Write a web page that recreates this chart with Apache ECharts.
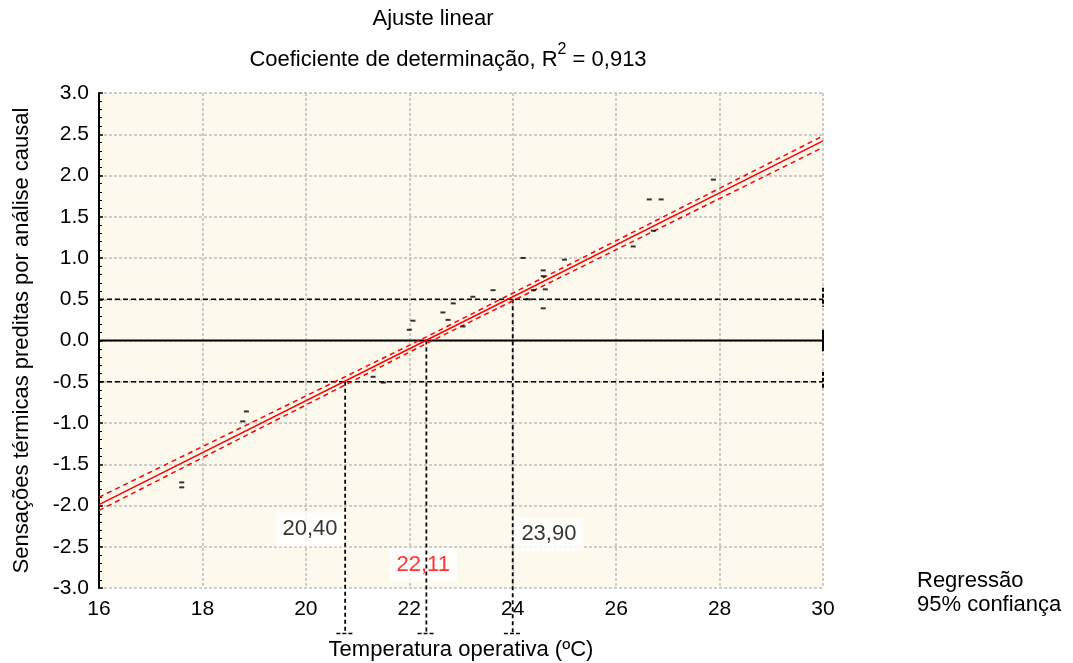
<!DOCTYPE html>
<html>
<head>
<meta charset="utf-8">
<script src="https://cdn.jsdelivr.net/npm/echarts@6/dist/echarts.min.js"></script>
<style>
  html, body { margin: 0; padding: 0; background: #fff; }
  #chart { width: 1073px; height: 663px; }
</style>
</head>
<body>
<div id="chart"></div>
<script>
// observed points (temperature, predicted sensation)
const obsX = [17.6, 17.6, 18.85, 18.78, 21.3, 21.5, 22.07, 22.0, 22.65, 22.85, 22.75, 23.23, 23.04,
  23.62, 24.2, 25.0, 24.59, 24.59, 24.4, 24.3, 24.59, 24.63, 26.33, 26.72, 26.64, 26.87, 27.88];
const obsY = [-1.72, -1.78, -0.86, -0.98, -0.44, -0.51, 0.24, 0.13, 0.34, 0.45, 0.25, 0.53, 0.17,
  0.61, 1.0, 0.98, 0.85, 0.78, 0.61, 0.5, 0.39, 0.62, 1.14, 1.33, 1.71, 1.71, 1.95];

// regression line and 95% band
const regX = [16, 22.32, 30];
const regY = [-1.99, 0.0, 2.42];
const upY = [-1.90, 0.04, 2.48];
const loY = [-2.06, -0.04, 2.34];

// comfort limits
const limY = [-0.5, 0, 0.5];
const cutX = [20.76, 22.33, 24.0];
const cutLabels = ['20,40', '22,11', '23,90'];
const labelPos = [[20.08, -2.29], [22.27, -2.72], [24.70, -2.35]];
const bottomY = -3.55;

const chart = echarts.init(document.getElementById('chart'));
const font = 'Liberation Sans, Arial, sans-serif';

const series = [];

// dashed limit lines and the zero line
limY.forEach(function (v) {
  series.push({
    type: 'line', symbol: 'none', silent: true, z: 3,
    data: [[16, v], [30, v]],
    lineStyle: { color: '#000', width: v === 0 ? 2 : 1.5, type: v === 0 ? 'solid' : [5, 3] }
  });
});

// small caps at the right edge
const capR = [[0.64, 0.41, [4, 2]], [0.13, -0.13, 'solid'], [-0.38, -0.59, [4, 2]]];
capR.forEach(function (c) {
  series.push({
    type: 'line', symbol: 'none', silent: true, clip: false, z: 3,
    data: [[30, c[0]], [30, c[1]]],
    lineStyle: { color: '#000', width: 2, type: c[2] }
  });
});

// vertical drops to the x axis
cutX.forEach(function (x, i) {
  series.push({
    type: 'line', symbol: 'none', silent: true, clip: false, z: 3,
    data: [[x, limY[i]], [x, bottomY]],
    lineStyle: { color: '#000', width: 1.8, type: [4, 3] }
  });
  series.push({
    type: 'line', symbol: 'none', silent: true, clip: false, z: 3,
    data: [[x - 0.17, bottomY], [x + 0.17, bottomY]],
    lineStyle: { color: '#000', width: 1.5, type: [4, 2] }
  });
});

series.push({
  name: 'Regressão', type: 'line', symbol: 'none', z: 5,
  data: regX.map(function (x, i) { return [x, regY[i]]; }),
  lineStyle: { color: '#f00', width: 1.5 }
});
series.push({
  name: '95% confiança', type: 'line', symbol: 'none', z: 5,
  data: regX.map(function (x, i) { return [x, upY[i]]; }),
  lineStyle: { color: '#f00', width: 1.5, type: [5, 4] }
});
series.push({
  type: 'line', symbol: 'none', z: 5,
  data: regX.map(function (x, i) { return [x, loY[i]]; }),
  lineStyle: { color: '#f00', width: 1.5, type: [5, 4] }
});

series.push({
  type: 'scatter', symbol: 'rect', symbolSize: [5, 2], z: 6,
  itemStyle: { color: '#000' },
  data: obsX.map(function (x, i) { return [x, obsY[i]]; })
});

// value boxes (drawn under the drop lines)
series.push({
  type: 'scatter', symbolSize: 0, z: 2, silent: true,
  data: labelPos.map(function (p, i) {
    return {
      value: p,
      label: {
        show: true, position: 'inside', formatter: cutLabels[i],
        color: i === 1 ? '#f00' : '#000', fontSize: 22, fontFamily: font,
        backgroundColor: '#fff', padding: [6, 7, 6, 7]
      }
    };
  })
});

const option = {
  backgroundColor: '#fff',
  animation: false,
  grid: {
    left: 99, top: 93, width: 724, height: 495, outerBoundsMode: 'none',
    show: true, backgroundColor: '#fdf9ec', borderWidth: 0
  },
  xAxis: {
    type: 'value', min: 16, max: 30, interval: 2,
    name: 'Temperatura operativa (ºC)', nameLocation: 'middle', nameGap: 51,
    nameTextStyle: { color: '#000', fontSize: 22, fontFamily: font },
    axisLine: { show: false }, axisTick: { show: false },
    axisLabel: { color: '#000', fontSize: 21, fontFamily: font, margin: 11 },
    splitLine: { show: true, lineStyle: { color: '#bdbdbd', width: 1.5, type: [3, 2] } }
  },
  yAxis: {
    type: 'value', min: -3, max: 3, interval: 0.5,
    name: 'Sensações térmicas preditas por análise causal', nameLocation: 'middle', nameGap: 66,
    nameTextStyle: { color: '#000', fontSize: 22, fontFamily: font },
    axisLine: { show: true, lineStyle: { color: '#000', width: 2 } },
    axisTick: { show: true, inside: true, length: 4, lineStyle: { color: '#000', width: 1.5 } },
    minorTick: { show: true, splitNumber: 5, length: 3, lineStyle: { color: '#000' } },
    axisLabel: { color: '#000', fontSize: 21, fontFamily: font, margin: 10,
      formatter: function (v) { return v.toFixed(1); } },
    splitLine: { show: true, lineStyle: { color: '#bdbdbd', width: 1.5, type: [3, 2] } }
  },
  graphic: [
    { type: 'text', x: 433, y: 19, style: { text: 'Ajuste linear', fill: '#000', font: '22px ' + font, textAlign: 'center', textVerticalAlign: 'middle' } },
    { type: 'text', x: 448, y: 52, style: {
        text: '{a|Coeficiente de determinação, R}{s|2}{a| = 0,913}',
        textAlign: 'center', textVerticalAlign: 'middle',
        rich: {
          a: { fontSize: 22, fontFamily: font, fill: '#000', padding: [16, 0, 0, 0] },
          s: { fontSize: 16, fontFamily: font, fill: '#000', padding: [0, 0, 4, 0] }
        }
      } },
    { type: 'text', x: 917, y: 581, style: { text: 'Regressão', fill: '#000', font: '22px ' + font, textVerticalAlign: 'middle' } },
    { type: 'text', x: 917, y: 605, style: { text: '95% confiança', fill: '#000', font: '22px ' + font, textVerticalAlign: 'middle' } }
  ],
  series: series
};

chart.setOption(option);
</script>
</body>
</html>
